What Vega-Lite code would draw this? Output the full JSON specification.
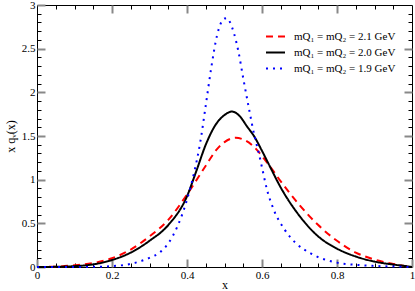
{
  "$schema": "https://vega.github.io/schema/vega-lite/v6.json",
  "width": 375,
  "height": 262,
  "autosize": {"type": "none"},
  "padding": {"left": 37, "top": 5, "right": 3, "bottom": 24},
  "config": {
    "view": {"stroke": "black", "strokeWidth": 1},
    "font": "Liberation Serif",
    "axis": {"grid": false, "domain": false, "labelFont": "Liberation Serif", "titleFont": "Liberation Serif", "titleFontWeight": "normal", "labelColor": "black", "titleColor": "black", "labelFontSize": 11, "titleFontSize": 12},
    "legend": {"labelFont": "Liberation Serif", "labelFontSize": 11, "labelColor": "black", "symbolStrokeWidth": 2}
  },
  "data": {"values": [
    {"m": "mQ₁ = mQ₂ = 2.1 GeV", "x": 0, "y": 0},
    {"m": "mQ₁ = mQ₂ = 2.1 GeV", "x": 0.05, "y": 0.004},
    {"m": "mQ₁ = mQ₂ = 2.1 GeV", "x": 0.1, "y": 0.02},
    {"m": "mQ₁ = mQ₂ = 2.1 GeV", "x": 0.15, "y": 0.045},
    {"m": "mQ₁ = mQ₂ = 2.1 GeV", "x": 0.2, "y": 0.1},
    {"m": "mQ₁ = mQ₂ = 2.1 GeV", "x": 0.25, "y": 0.2},
    {"m": "mQ₁ = mQ₂ = 2.1 GeV", "x": 0.3, "y": 0.35},
    {"m": "mQ₁ = mQ₂ = 2.1 GeV", "x": 0.35, "y": 0.54},
    {"m": "mQ₁ = mQ₂ = 2.1 GeV", "x": 0.4, "y": 0.83},
    {"m": "mQ₁ = mQ₂ = 2.1 GeV", "x": 0.45, "y": 1.16},
    {"m": "mQ₁ = mQ₂ = 2.1 GeV", "x": 0.48, "y": 1.35},
    {"m": "mQ₁ = mQ₂ = 2.1 GeV", "x": 0.5, "y": 1.43},
    {"m": "mQ₁ = mQ₂ = 2.1 GeV", "x": 0.53, "y": 1.48},
    {"m": "mQ₁ = mQ₂ = 2.1 GeV", "x": 0.555, "y": 1.45},
    {"m": "mQ₁ = mQ₂ = 2.1 GeV", "x": 0.58, "y": 1.37},
    {"m": "mQ₁ = mQ₂ = 2.1 GeV", "x": 0.6, "y": 1.27},
    {"m": "mQ₁ = mQ₂ = 2.1 GeV", "x": 0.63, "y": 1.1},
    {"m": "mQ₁ = mQ₂ = 2.1 GeV", "x": 0.65, "y": 0.98},
    {"m": "mQ₁ = mQ₂ = 2.1 GeV", "x": 0.7, "y": 0.71},
    {"m": "mQ₁ = mQ₂ = 2.1 GeV", "x": 0.75, "y": 0.48},
    {"m": "mQ₁ = mQ₂ = 2.1 GeV", "x": 0.8, "y": 0.3},
    {"m": "mQ₁ = mQ₂ = 2.1 GeV", "x": 0.85, "y": 0.165},
    {"m": "mQ₁ = mQ₂ = 2.1 GeV", "x": 0.9, "y": 0.086},
    {"m": "mQ₁ = mQ₂ = 2.1 GeV", "x": 0.95, "y": 0.035},
    {"m": "mQ₁ = mQ₂ = 2.1 GeV", "x": 0.98, "y": 0.012},
    {"m": "mQ₁ = mQ₂ = 2.1 GeV", "x": 1, "y": 0},
    {"m": "mQ₁ = mQ₂ = 2.0 GeV", "x": 0, "y": 0},
    {"m": "mQ₁ = mQ₂ = 2.0 GeV", "x": 0.05, "y": 0.002},
    {"m": "mQ₁ = mQ₂ = 2.0 GeV", "x": 0.1, "y": 0.01},
    {"m": "mQ₁ = mQ₂ = 2.0 GeV", "x": 0.15, "y": 0.03},
    {"m": "mQ₁ = mQ₂ = 2.0 GeV", "x": 0.2, "y": 0.08},
    {"m": "mQ₁ = mQ₂ = 2.0 GeV", "x": 0.25, "y": 0.165},
    {"m": "mQ₁ = mQ₂ = 2.0 GeV", "x": 0.3, "y": 0.3},
    {"m": "mQ₁ = mQ₂ = 2.0 GeV", "x": 0.35, "y": 0.48},
    {"m": "mQ₁ = mQ₂ = 2.0 GeV", "x": 0.4, "y": 0.81},
    {"m": "mQ₁ = mQ₂ = 2.0 GeV", "x": 0.425, "y": 1.1},
    {"m": "mQ₁ = mQ₂ = 2.0 GeV", "x": 0.45, "y": 1.4},
    {"m": "mQ₁ = mQ₂ = 2.0 GeV", "x": 0.475, "y": 1.62},
    {"m": "mQ₁ = mQ₂ = 2.0 GeV", "x": 0.5, "y": 1.74},
    {"m": "mQ₁ = mQ₂ = 2.0 GeV", "x": 0.52, "y": 1.78},
    {"m": "mQ₁ = mQ₂ = 2.0 GeV", "x": 0.54, "y": 1.73},
    {"m": "mQ₁ = mQ₂ = 2.0 GeV", "x": 0.56, "y": 1.61},
    {"m": "mQ₁ = mQ₂ = 2.0 GeV", "x": 0.58, "y": 1.49},
    {"m": "mQ₁ = mQ₂ = 2.0 GeV", "x": 0.6, "y": 1.33},
    {"m": "mQ₁ = mQ₂ = 2.0 GeV", "x": 0.62, "y": 1.16},
    {"m": "mQ₁ = mQ₂ = 2.0 GeV", "x": 0.65, "y": 0.91},
    {"m": "mQ₁ = mQ₂ = 2.0 GeV", "x": 0.7, "y": 0.585},
    {"m": "mQ₁ = mQ₂ = 2.0 GeV", "x": 0.75, "y": 0.35},
    {"m": "mQ₁ = mQ₂ = 2.0 GeV", "x": 0.8, "y": 0.21},
    {"m": "mQ₁ = mQ₂ = 2.0 GeV", "x": 0.85, "y": 0.12},
    {"m": "mQ₁ = mQ₂ = 2.0 GeV", "x": 0.9, "y": 0.062},
    {"m": "mQ₁ = mQ₂ = 2.0 GeV", "x": 0.95, "y": 0.028},
    {"m": "mQ₁ = mQ₂ = 2.0 GeV", "x": 0.98, "y": 0.012},
    {"m": "mQ₁ = mQ₂ = 2.0 GeV", "x": 1, "y": 0},
    {"m": "mQ₁ = mQ₂ = 1.9 GeV", "x": 0, "y": 0},
    {"m": "mQ₁ = mQ₂ = 1.9 GeV", "x": 0.1, "y": 0.0005},
    {"m": "mQ₁ = mQ₂ = 1.9 GeV", "x": 0.15, "y": 0.002},
    {"m": "mQ₁ = mQ₂ = 1.9 GeV", "x": 0.2, "y": 0.01},
    {"m": "mQ₁ = mQ₂ = 1.9 GeV", "x": 0.25, "y": 0.036},
    {"m": "mQ₁ = mQ₂ = 1.9 GeV", "x": 0.3, "y": 0.105},
    {"m": "mQ₁ = mQ₂ = 1.9 GeV", "x": 0.325, "y": 0.16},
    {"m": "mQ₁ = mQ₂ = 1.9 GeV", "x": 0.35, "y": 0.27},
    {"m": "mQ₁ = mQ₂ = 1.9 GeV", "x": 0.375, "y": 0.47},
    {"m": "mQ₁ = mQ₂ = 1.9 GeV", "x": 0.4, "y": 0.77},
    {"m": "mQ₁ = mQ₂ = 1.9 GeV", "x": 0.42, "y": 1.1},
    {"m": "mQ₁ = mQ₂ = 1.9 GeV", "x": 0.435, "y": 1.42},
    {"m": "mQ₁ = mQ₂ = 1.9 GeV", "x": 0.45, "y": 1.85},
    {"m": "mQ₁ = mQ₂ = 1.9 GeV", "x": 0.465, "y": 2.29},
    {"m": "mQ₁ = mQ₂ = 1.9 GeV", "x": 0.48, "y": 2.65},
    {"m": "mQ₁ = mQ₂ = 1.9 GeV", "x": 0.49, "y": 2.79},
    {"m": "mQ₁ = mQ₂ = 1.9 GeV", "x": 0.5, "y": 2.845},
    {"m": "mQ₁ = mQ₂ = 1.9 GeV", "x": 0.507, "y": 2.85},
    {"m": "mQ₁ = mQ₂ = 1.9 GeV", "x": 0.515, "y": 2.8},
    {"m": "mQ₁ = mQ₂ = 1.9 GeV", "x": 0.525, "y": 2.68},
    {"m": "mQ₁ = mQ₂ = 1.9 GeV", "x": 0.537, "y": 2.47},
    {"m": "mQ₁ = mQ₂ = 1.9 GeV", "x": 0.55, "y": 2.16},
    {"m": "mQ₁ = mQ₂ = 1.9 GeV", "x": 0.565, "y": 1.82},
    {"m": "mQ₁ = mQ₂ = 1.9 GeV", "x": 0.58, "y": 1.5},
    {"m": "mQ₁ = mQ₂ = 1.9 GeV", "x": 0.59, "y": 1.33},
    {"m": "mQ₁ = mQ₂ = 1.9 GeV", "x": 0.6, "y": 1.14},
    {"m": "mQ₁ = mQ₂ = 1.9 GeV", "x": 0.613, "y": 0.89},
    {"m": "mQ₁ = mQ₂ = 1.9 GeV", "x": 0.63, "y": 0.67},
    {"m": "mQ₁ = mQ₂ = 1.9 GeV", "x": 0.66, "y": 0.43},
    {"m": "mQ₁ = mQ₂ = 1.9 GeV", "x": 0.69, "y": 0.275},
    {"m": "mQ₁ = mQ₂ = 1.9 GeV", "x": 0.73, "y": 0.155},
    {"m": "mQ₁ = mQ₂ = 1.9 GeV", "x": 0.8, "y": 0.05},
    {"m": "mQ₁ = mQ₂ = 1.9 GeV", "x": 0.85, "y": 0.025},
    {"m": "mQ₁ = mQ₂ = 1.9 GeV", "x": 0.9, "y": 0.012},
    {"m": "mQ₁ = mQ₂ = 1.9 GeV", "x": 0.95, "y": 0.005},
    {"m": "mQ₁ = mQ₂ = 1.9 GeV", "x": 1, "y": 0}
  ]},
  "layer": [
    {
      "mark": {"type": "line", "strokeWidth": 2, "strokeCap": "butt", "interpolate": "monotone"},
      "encoding": {
        "x": {"field": "x", "type": "quantitative", "scale": {"domain": [0, 1], "nice": false, "zero": false},
              "axis": {"orient": "bottom", "title": "x", "values": [0, 0.2, 0.4, 0.6, 0.8, 1], "format": ".1~f", "tickSize": -8, "tickColor": "#888", "tickWidth": 2, "labelPadding": 10, "titlePadding": -1, "labelFlush": false}},
        "y": {"field": "y", "type": "quantitative", "scale": {"domain": [0, 3], "nice": false},
              "axis": {"orient": "left", "title": "x qᵥ(x)", "values": [0, 0.5, 1, 1.5, 2, 2.5, 3], "format": "~g", "tickSize": -8, "tickColor": "#888", "tickWidth": 2, "labelPadding": 10, "titlePadding": 4, "labelFlush": false}},
        "color": {"field": "m", "type": "nominal",
                  "scale": {"domain": ["mQ₁ = mQ₂ = 2.1 GeV", "mQ₁ = mQ₂ = 2.0 GeV", "mQ₁ = mQ₂ = 1.9 GeV"], "range": ["#ff0000", "#000000", "#0000ff"]},
                  "legend": {"title": null, "orient": "none", "legendX": 228, "legendY": 21, "padding": 0, "rowPadding": 0, "symbolType": "stroke", "symbolSize": 361, "labelOffset": 8}},
        "strokeDash": {"field": "m", "type": "nominal",
                  "scale": {"domain": ["mQ₁ = mQ₂ = 2.1 GeV", "mQ₁ = mQ₂ = 2.0 GeV", "mQ₁ = mQ₂ = 1.9 GeV"], "range": [[7, 5], [1, 0], [2, 5]]},
                  "legend": {"title": null, "orient": "none", "legendX": 228, "legendY": 21, "padding": 0, "rowPadding": 0, "symbolType": "stroke", "symbolSize": 361, "labelOffset": 8}}
      }
    },
    {
      "mark": {"type": "point", "opacity": 0},
      "encoding": {
        "x": {"field": "x", "type": "quantitative", "axis": {"orient": "bottom", "title": null, "labels": false, "tickSize": -4, "tickColor": "black", "tickWidth": 1, "values": [0.05, 0.1, 0.15, 0.25, 0.3, 0.35, 0.45, 0.5, 0.55, 0.65, 0.7, 0.75, 0.85, 0.9, 0.95]}},
        "y": {"field": "y", "type": "quantitative", "axis": {"orient": "left", "title": null, "labels": false, "tickSize": -4, "tickColor": "black", "tickWidth": 1, "values": [0.1, 0.2, 0.3, 0.4, 0.6, 0.7, 0.8, 0.9, 1.1, 1.2, 1.3, 1.4, 1.6, 1.7, 1.8, 1.9, 2.1, 2.2, 2.3, 2.4, 2.6, 2.7, 2.8, 2.9]}}
      }
    },
    {
      "mark": {"type": "point", "opacity": 0},
      "encoding": {
        "x": {"field": "x", "type": "quantitative", "axis": {"orient": "top", "title": null, "labels": false, "tickSize": -8, "tickColor": "#888", "tickWidth": 2, "values": [0.2, 0.4, 0.6, 0.8]}},
        "y": {"field": "y", "type": "quantitative", "axis": {"orient": "right", "title": null, "labels": false, "tickSize": -8, "tickColor": "#888", "tickWidth": 2, "values": [0.5, 1, 1.5, 2, 2.5]}}
      }
    },
    {
      "mark": {"type": "point", "opacity": 0},
      "encoding": {
        "x": {"field": "x", "type": "quantitative", "axis": {"orient": "top", "title": null, "labels": false, "tickSize": -4, "tickColor": "black", "tickWidth": 1, "values": [0.05, 0.1, 0.15, 0.25, 0.3, 0.35, 0.45, 0.5, 0.55, 0.65, 0.7, 0.75, 0.85, 0.9, 0.95]}},
        "y": {"field": "y", "type": "quantitative", "axis": {"orient": "right", "title": null, "labels": false, "tickSize": -4, "tickColor": "black", "tickWidth": 1, "values": [0.1, 0.2, 0.3, 0.4, 0.6, 0.7, 0.8, 0.9, 1.1, 1.2, 1.3, 1.4, 1.6, 1.7, 1.8, 1.9, 2.1, 2.2, 2.3, 2.4, 2.6, 2.7, 2.8, 2.9]}}
      }
    }
  ],
  "resolve": {"axis": {"x": "independent", "y": "independent"}}
}
